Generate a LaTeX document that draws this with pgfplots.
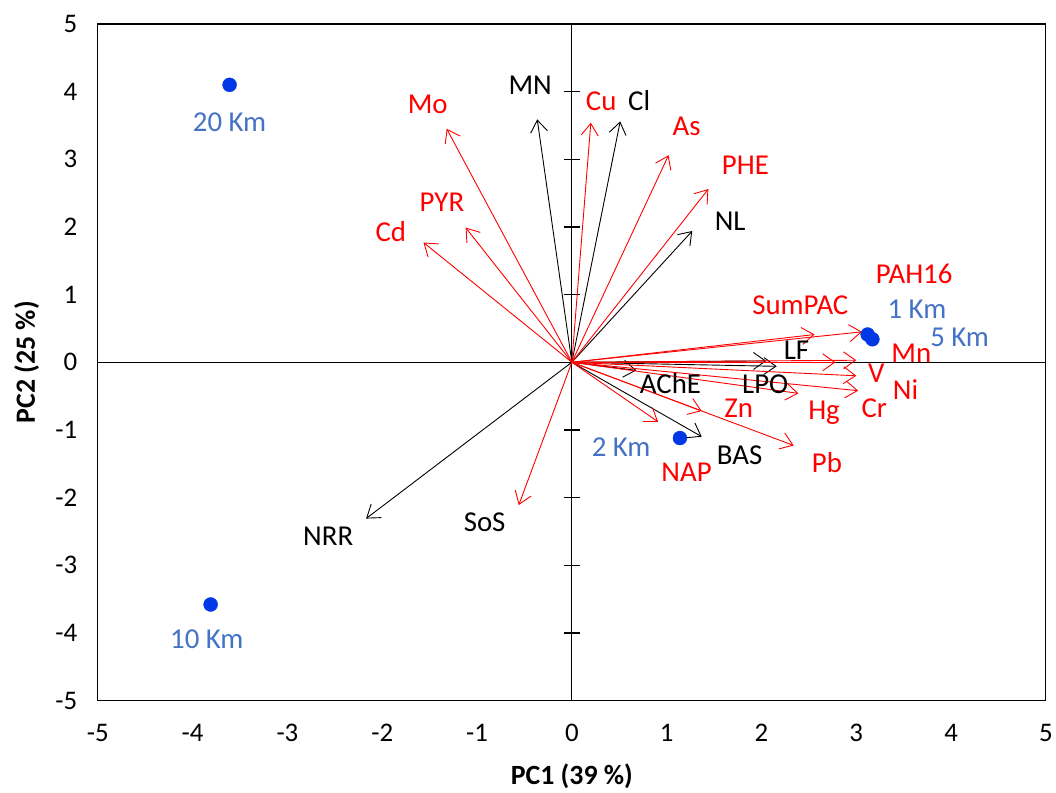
\documentclass[border=0pt]{standalone}
\usepackage{fontspec}
\setmainfont{Carlito}
\usepackage{pgfplots}
\pgfplotsset{compat=1.18}
\usetikzlibrary{arrows.meta}
\definecolor{pred}{RGB}{255,0,0}
\definecolor{lblue}{RGB}{68,114,196}
\definecolor{pblue}{RGB}{0,56,230}
\newcommand{\lf}{\fontsize{29}{33}\selectfont}
\begin{document}
\begin{tikzpicture}
\begin{axis}[
  scale only axis,
  width=950bp, height=678bp,
  xmin=-5, xmax=5, ymin=-5, ymax=5,
  xtick={-5,...,5}, ytick={-5,...,5},
  major tick length=0pt,
  axis line style={line width=1.2bp},
  /pgf/number format/assume math mode=true,
  tick label style={font=\fontsize{27}{31}\selectfont},
  xticklabel style={yshift=-20bp},
  yticklabel style={xshift=-17bp},
  xlabel={\textbf{PC1 (39 \%)}},
  ylabel={\textbf{PC2 (25 \%)}},
  label style={font=\fontsize{28}{32}\selectfont},
  xlabel style={at={(axis description cs:0.5,-0.112)}, anchor=center},
  ylabel style={at={(axis description cs:-0.075,0.5)}, anchor=center},
  clip=false,
  rarrow/.style={draw=pred, line width=0.9bp, -{Straight Barb[length=12bp,width=17bp]}},
  barrow/.style={draw=black, line width=0.9bp, -{Straight Barb[length=12bp,width=17bp]}},
]
% axis lines through origin
\draw[line width=1.3bp] (axis cs:-5,0) -- (axis cs:5,0);
\draw[line width=1.3bp] (axis cs:0,-5) -- (axis cs:0,5);
\pgfplotsinvokeforeach{-4,-3,-2,-1,1,2,3,4}{
  \draw[line width=1.3bp] ([xshift=-8bp]axis cs:0,#1) -- ([xshift=8bp]axis cs:0,#1);
}
% black loading arrows
\addplot[barrow] coordinates {(0,0) (-0.365,3.59)}; % MN
\addplot[barrow] coordinates {(0,0) (0.51,3.56)};   % Cl
\addplot[barrow] coordinates {(0,0) (1.27,1.94)};   % NL
\addplot[barrow] coordinates {(0,0) (2.05,0.02)};   % LF
\addplot[barrow] coordinates {(0,0) (2.16,-0.06)};  % LPO
\addplot[barrow] coordinates {(0,0) (0.68,-0.12)};  % AChE
\addplot[barrow] coordinates {(0,0) (1.37,-1.10)};  % BAS
\addplot[barrow] coordinates {(0,0) (-2.17,-2.31)}; % NRR
% red loading arrows
\addplot[rarrow] coordinates {(0,0) (-1.32,3.45)};  % Mo
\addplot[rarrow] coordinates {(0,0) (0.20,3.54)};   % Cu
\addplot[rarrow] coordinates {(0,0) (1.02,3.06)};   % As
\addplot[rarrow] coordinates {(0,0) (1.44,2.56)};   % PHE
\addplot[rarrow] coordinates {(0,0) (-1.12,1.99)};  % PYR
\addplot[rarrow] coordinates {(0,0) (-1.565,1.77)}; % Cd
\addplot[rarrow] coordinates {(0,0) (2.56,0.41)};   % SumPAC
\addplot[rarrow] coordinates {(0,0) (3.06,0.45)};   % PAH16
\addplot[rarrow] coordinates {(0,0) (3.00,0.03)};   % Mn
\addplot[rarrow] coordinates {(0,0) (2.78,0.00)};   % V
\addplot[rarrow] coordinates {(0,0) (3.00,-0.20)};  % Ni
\addplot[rarrow] coordinates {(0,0) (3.02,-0.42)};  % Cr
\addplot[rarrow] coordinates {(0,0) (2.39,-0.46)};  % Hg
\addplot[rarrow] coordinates {(0,0) (1.37,-0.72)};  % Zn
\addplot[rarrow] coordinates {(0,0) (0.91,-0.88)};  % NAP
\addplot[rarrow] coordinates {(0,0) (2.34,-1.23)};  % Pb
\addplot[rarrow] coordinates {(0,0) (-0.56,-2.11)}; % SoS
% sites
\addplot[only marks, mark=*, mark size=7bp, draw=pblue, fill=pblue] coordinates {
  (-3.61,4.10) (-3.81,-3.58) (1.14,-1.12) (3.12,0.41) (3.17,0.34)};
% site labels
\node[font=\lf, text=lblue] at (axis cs:-3.61,3.55) {20 Km};
\node[font=\lf, text=lblue] at (axis cs:-3.85,-4.09) {10 Km};
\node[font=\lf, text=lblue] at (axis cs:0.52,-1.25) {2 Km};
\node[font=\lf, text=lblue] at (axis cs:3.64,0.78) {1 Km};
\node[font=\lf, text=lblue] at (axis cs:4.09,0.37) {5 Km};
% variable labels, red
\node[font=\lf, text=pred] at (axis cs:-1.52,3.81) {Mo};
\node[font=\lf, text=pred] at (axis cs:0.31,3.86) {Cu};
\node[font=\lf, text=pred] at (axis cs:1.21,3.48) {As};
\node[font=\lf, text=pred] at (axis cs:1.83,2.91) {PHE};
\node[font=\lf, text=pred] at (axis cs:-1.37,2.36) {PYR};
\node[font=\lf, text=pred] at (axis cs:-1.91,1.93) {Cd};
\node[font=\lf, text=pred] at (axis cs:3.61,1.30) {PAH16};
\node[font=\lf, text=pred] at (axis cs:2.41,0.84) {SumPAC};
\node[font=\lf, text=pred] at (axis cs:3.58,0.13) {Mn};
\node[font=\lf, text=pred] at (axis cs:3.21,-0.16) {V};
\node[font=\lf, text=pred] at (axis cs:3.52,-0.40) {Ni};
\node[font=\lf, text=pred] at (axis cs:3.19,-0.68) {Cr};
\node[font=\lf, text=pred] at (axis cs:2.66,-0.75) {Hg};
\node[font=\lf, text=pred] at (axis cs:1.76,-0.68) {Zn};
\node[font=\lf, text=pred] at (axis cs:2.69,-1.49) {Pb};
\node[font=\lf, text=pred] at (axis cs:1.21,-1.62) {NAP};
% variable labels, black
\node[font=\lf] at (axis cs:-0.92,-2.36) {SoS};
\node[font=\lf] at (axis cs:-0.44,4.10) {MN};
\node[font=\lf] at (axis cs:0.71,3.86) {Cl};
\node[font=\lf] at (axis cs:1.67,2.09) {NL};
\node[font=\lf] at (axis cs:2.37,0.18) {LF};
\node[font=\lf] at (axis cs:2.04,-0.32) {LPO};
\node[font=\lf] at (axis cs:1.04,-0.32) {AChE};
\node[font=\lf] at (axis cs:1.77,-1.37) {BAS};
\node[font=\lf] at (axis cs:-2.57,-2.57) {NRR};
\end{axis}
\path ([shift={(-98bp,-91bp)}]current axis.south west) rectangle ++(1056bp,793bp);
\end{tikzpicture}
\end{document}
